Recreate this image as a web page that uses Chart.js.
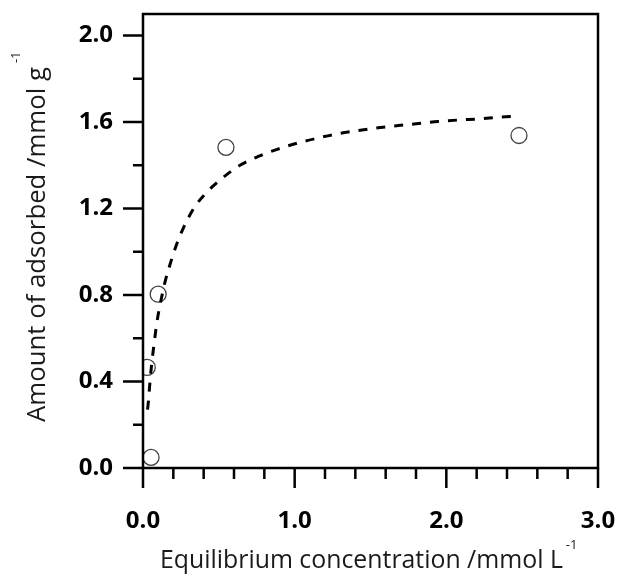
<!DOCTYPE html>
<html><head><meta charset="utf-8">
<script src="https://cdn.jsdelivr.net/npm/chart.js@4"></script>
<style>html,body{margin:0;padding:0;background:#fff;} canvas{display:block;}</style>
</head><body>
<canvas id="c" width="620" height="576"></canvas>
<script>
// Measured data (equilibrium concentration, amount adsorbed)
const measuredConc   = [0.053, 0.028, 0.100, 0.547, 2.479];
const measuredAmount = [0.049, 0.465, 0.804, 1.483, 1.538];
// Fitted curve (dashed)
const fitConc   = [0.030, 0.036, 0.045, 0.057, 0.074, 0.093, 0.117, 0.145, 0.182, 0.222, 0.266, 0.343, 0.430, 0.530, 0.639, 0.760, 0.880, 1.030, 1.145, 1.277, 1.420, 1.551, 1.683, 1.815, 1.946, 2.090, 2.220, 2.353, 2.474];
const fitAmount = [0.27, 0.31, 0.39, 0.48, 0.58, 0.68, 0.77, 0.86, 0.95, 1.035, 1.110, 1.210, 1.282, 1.345, 1.400, 1.441, 1.473, 1.505, 1.525, 1.545, 1.561, 1.574, 1.584, 1.593, 1.603, 1.610, 1.615, 1.623, 1.627];
// Ticks
const xMajorTicks = [0, 1, 2, 3];
const xMinorTicks = [0.2, 0.4, 0.6, 0.8, 1.2, 1.4, 1.6, 1.8, 2.2, 2.4, 2.6, 2.8];
const yMajorTicks = [0, 0.4, 0.8, 1.2, 1.6, 2.0];
const yMinorTicks = [0.2, 0.6, 1.0, 1.4, 1.8];
const xTitle = 'Equilibrium concentration /mmol L';
const xTitleSup = '-1';
const yTitle = 'Amount of adsorbed /mmol g';
const yTitleSup = '-1';

const FONT = '"Open Sans", "Noto Sans", sans-serif';

function fitFont(ctx, text, baseSize, target) {
  ctx.font = baseSize + 'px ' + FONT;
  const w = ctx.measureText(text).width;
  const size = baseSize * target / w;
  ctx.font = size.toFixed(2) + 'px ' + FONT;
  return ctx.measureText(text).width;
}

const framePlugin = {
  id: 'frame',
  afterDraw(chart) {
    const ctx = chart.ctx;
    const a = chart.chartArea;
    const xs = chart.scales.x, ys = chart.scales.y;
    ctx.save();
    ctx.strokeStyle = '#000';
    ctx.lineWidth = 2.5;
    ctx.lineCap = 'butt';
    ctx.strokeRect(a.left, a.top, a.right - a.left, a.bottom - a.top);
    ctx.beginPath();
    xMajorTicks.forEach(v => { const p = xs.getPixelForValue(v); ctx.moveTo(p, a.bottom); ctx.lineTo(p, a.bottom + 20); });
    xMinorTicks.forEach(v => { const p = xs.getPixelForValue(v); ctx.moveTo(p, a.bottom); ctx.lineTo(p, a.bottom + 11); });
    yMajorTicks.forEach(v => { const p = ys.getPixelForValue(v); ctx.moveTo(a.left, p); ctx.lineTo(a.left - 20, p); });
    yMinorTicks.forEach(v => { const p = ys.getPixelForValue(v); ctx.moveTo(a.left, p); ctx.lineTo(a.left - 10, p); });
    ctx.stroke();

    ctx.fillStyle = '#1a1a1a';
    ctx.textBaseline = 'alphabetic';
    ctx.textAlign = 'left';
    // X title
    const xw = fitFont(ctx, xTitle, 23, 403);
    const xStart = 160;
    ctx.fillText(xTitle, xStart, 568);
    ctx.font = '13px ' + FONT;
    ctx.fillText(xTitleSup, xStart + xw + 3, 549);
    // Y title
    ctx.translate(45, 422);
    ctx.rotate(-Math.PI / 2);
    const yw = fitFont(ctx, yTitle, 23, 355);
    ctx.fillText(yTitle, 0, 0);
    ctx.font = '13px ' + FONT;
    ctx.fillText(yTitleSup, yw + 4, -25);
    ctx.restore();
  }
};

new Chart(document.getElementById('c'), {
  type: 'scatter',
  data: {
    datasets: [
      {
        label: 'Fit',
        data: fitConc.map((x, i) => ({ x: x, y: fitAmount[i] })),
        showLine: true,
        borderColor: '#000',
        borderWidth: 3,
        borderDash: [9, 9],
        pointRadius: 0,
        cubicInterpolationMode: 'monotone',
        fill: false
      },
      {
        label: 'Measured',
        data: measuredConc.map((x, i) => ({ x: x, y: measuredAmount[i] })),
        showLine: false,
        pointRadius: 8,
        pointBorderWidth: 1.3,
        pointBorderColor: '#444',
        pointBackgroundColor: 'rgba(0,0,0,0)'
      }
    ]
  },
  options: {
    responsive: false,
    animation: false,
    devicePixelRatio: 1,
    layout: { padding: { left: 0, right: 22, top: 14, bottom: 0 } },
    plugins: { legend: { display: false }, tooltip: { enabled: false } },
    scales: {
      x: {
        type: 'linear', min: 0, max: 3,
        grid: { display: false, drawTicks: false },
        border: { display: false },
        afterBuildTicks: s => { s.ticks = xMajorTicks.map(v => ({ value: v })); },
        ticks: { callback: v => Number(v).toFixed(1), font: { family: FONT, size: 24, weight: 'bold' }, color: '#000', padding: 39, maxRotation: 0, autoSkip: false },
        afterFit: s => { s.height = 108; s.paddingLeft = 0; s.paddingRight = 0; }
      },
      y: {
        type: 'linear', min: 0, max: 2.1,
        grid: { display: false, drawTicks: false },
        border: { display: false },
        afterBuildTicks: s => { s.ticks = yMajorTicks.map(v => ({ value: v })); },
        ticks: { callback: v => Number(v).toFixed(1), font: { family: FONT, size: 24, weight: 'bold' }, color: '#000', padding: 30, autoSkip: false },
        afterFit: s => { s.width = 143; s.paddingTop = 0; s.paddingBottom = 0; }
      }
    }
  },
  plugins: [framePlugin]
});
</script>
</body></html>
